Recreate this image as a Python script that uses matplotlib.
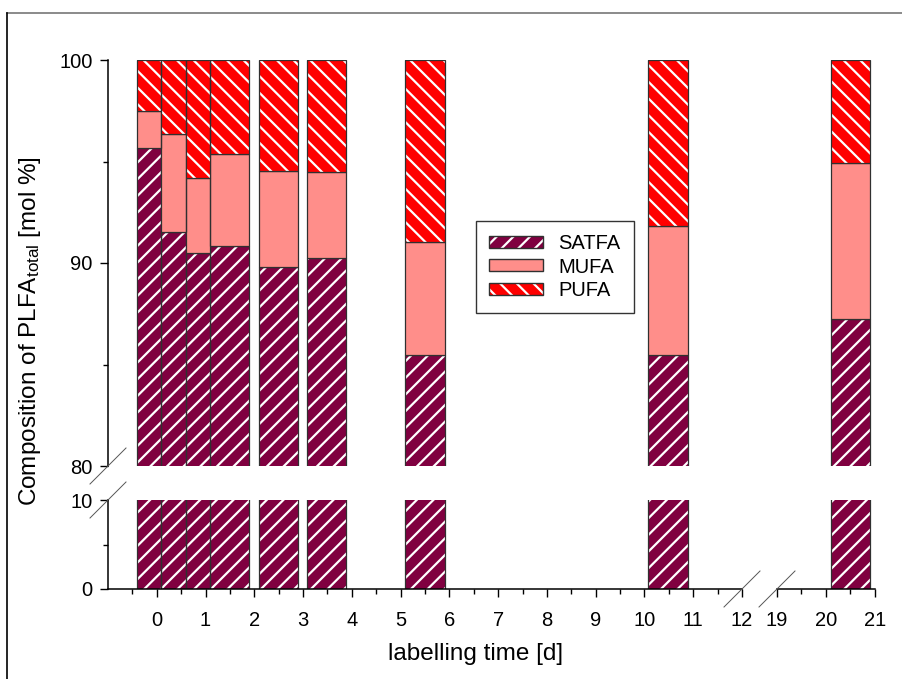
import matplotlib
matplotlib.use('Agg')
import matplotlib.pyplot as plt
from matplotlib.patches import Patch
from matplotlib.lines import Line2D
from matplotlib.legend_handler import HandlerTuple

plt.rcParams['font.family'] = ['Liberation Sans', 'DejaVu Sans']
plt.rcParams['mathtext.fontset'] = 'custom'
plt.rcParams['mathtext.rm'] = 'Liberation Sans'
plt.rcParams['mathtext.it'] = 'Liberation Sans'
plt.rcParams['hatch.linewidth'] = 1.6

# ── data: sampling intervals [d] and composition [mol %] ──
bar_start = [-0.41, 0.09, 0.60, 1.09, 2.09, 3.09, 5.09, 10.08, 20.10]
bar_end = [0.09, 0.60, 1.09, 1.89, 2.90, 3.89, 5.91, 10.90, 20.90]
satfa = [95.68, 91.54, 90.48, 90.85, 89.80, 90.25, 85.47, 85.47, 87.22]
mufa = [1.81, 4.83, 3.72, 4.50, 4.73, 4.23, 5.56, 6.35, 7.71]
pufa = [2.51, 3.63, 5.80, 4.65, 5.47, 5.52, 8.97, 8.18, 5.07]

groups = ['SATFA', 'MUFA', 'PUFA']
colors = {'SATFA': '#800040', 'MUFA': '#ff8e8a', 'PUFA': '#ff0000'}
hatches = {'SATFA': '//', 'MUFA': None, 'PUFA': '\\\\'}

xticks_left = list(range(0, 13))
xticks_right = [19, 20, 21]
yticks_top = [80, 90, 100]
yticks_bottom = [0, 10]

W, H = 903, 679
fig = plt.figure(figsize=(W / 100, H / 100), dpi=100)


def frac(x0, y0, x1, y1):
    return [x0 / W, 1 - y1 / H, (x1 - x0) / W, (y1 - y0) / H]


ax_tl = fig.add_axes(frac(108, 60, 742, 466))
ax_tr = fig.add_axes(frac(777, 60, 875, 466))
ax_bl = fig.add_axes(frac(108, 500, 742, 589))
ax_br = fig.add_axes(frac(777, 500, 875, 589))
axes = [ax_tl, ax_tr, ax_bl, ax_br]

widths = [e - s for s, e in zip(bar_start, bar_end)]
for ax in axes:
    bottom = [0.0] * len(satfa)
    for g, vals in zip(groups, [satfa, mufa, pufa]):
        # coloured fill with white hatching, then a dark outline on top
        ax.bar(bar_start, vals, width=widths, bottom=bottom, align='edge',
               color=colors[g], edgecolor='white', linewidth=0,
               hatch=hatches[g])
        ax.bar(bar_start, vals, width=widths, bottom=bottom, align='edge',
               fill=False, edgecolor='#303030', linewidth=0.9)
        bottom = [b + v for b, v in zip(bottom, vals)]

for ax in [ax_tl, ax_bl]:
    ax.set_xlim(-1, 12)
for ax in [ax_tr, ax_br]:
    ax.set_xlim(19, 21)
for ax in [ax_tl, ax_tr]:
    ax.set_ylim(80, 100)
for ax in [ax_bl, ax_br]:
    ax.set_ylim(0, 10)

for ax in axes:
    for s in ax.spines.values():
        s.set_visible(False)
        s.set_linewidth(1.1)
    ax.tick_params(which='both', direction='out', width=1.0, labelsize=14.5)
    ax.tick_params(which='major', length=6)
    ax.tick_params(which='minor', length=3.5)
    ax.patch.set_visible(False)

ax_tl.spines['left'].set_visible(True)
ax_tl.set_yticks(yticks_top)
ax_tl.set_yticks([85, 95], minor=True)
ax_tl.set_xticks([])
ax_tl.tick_params(axis='y', pad=5)

ax_tr.set_xticks([])
ax_tr.set_yticks([])

ax_bl.spines['left'].set_visible(True)
ax_bl.spines['bottom'].set_visible(True)
ax_bl.set_yticks(yticks_bottom)
ax_bl.set_yticks([5], minor=True)
ax_bl.set_xticks(xticks_left)
ax_bl.set_xticks([x + 0.5 for x in range(-1, 12)], minor=True)
ax_bl.tick_params(axis='x', pad=9.5)
ax_bl.tick_params(axis='y', pad=5)

ax_br.spines['bottom'].set_visible(True)
ax_br.set_yticks([])
ax_br.set_xticks(xticks_right)
ax_br.set_xticks([19.5, 20.5], minor=True)
ax_br.tick_params(axis='x', pad=9.5)


# break marks on the axes
def slash(ax, xa, ya, d=18):
    px, py = ax.transAxes.transform((xa, ya))
    fig.add_artist(Line2D([(px - d) / W, (px + d) / W],
                          [(py - d) / H, (py + d) / H],
                          transform=fig.transFigure, color='#555555', lw=0.7))


slash(ax_tl, 0, 0)
slash(ax_bl, 0, 1)
slash(ax_bl, 1, 0)
slash(ax_br, 0, 0)

# figure frame lines (top and left)
fig.add_artist(Line2D([7 / W, 1], [1 - 13 / H, 1 - 13 / H], transform=fig.transFigure,
                      color='#777777', lw=1.2))
fig.add_artist(Line2D([7 / W, 7 / W], [0, 1 - 13 / H], transform=fig.transFigure,
                      color='black', lw=1.2))

fig.text(30 / W, 1 - 331 / H, r'Composition of PLFA$_{\mathrm{total}}$ [mol %]',
         rotation=90, ha='center', va='center', fontsize=17.5)
fig.text(476 / W, 1 - 654 / H, 'labelling time [d]', ha='center', va='center',
         fontsize=17.5)

handles = []
for g in groups:
    fill = Patch(facecolor=colors[g], edgecolor='white', linewidth=0, hatch=hatches[g])
    edge = Patch(fill=False, edgecolor='#303030', linewidth=1.0)
    handles.append((fill, edge))
leg = ax_tl.legend(handles, groups, handler_map={tuple: HandlerTuple(ndivide=1)},
                   loc='upper left', bbox_to_anchor=(476 / W, 1 - 221 / H),
                   bbox_transform=fig.transFigure, borderaxespad=0, fontsize=14.5,
                   fancybox=False, frameon=True, handlelength=2.7, handleheight=0.55,
                   handletextpad=0.75, labelspacing=0.22, borderpad=0.65)
leg.get_frame().set_edgecolor('black')
leg.get_frame().set_linewidth(1.0)

fig.savefig('out.png', dpi=100)
